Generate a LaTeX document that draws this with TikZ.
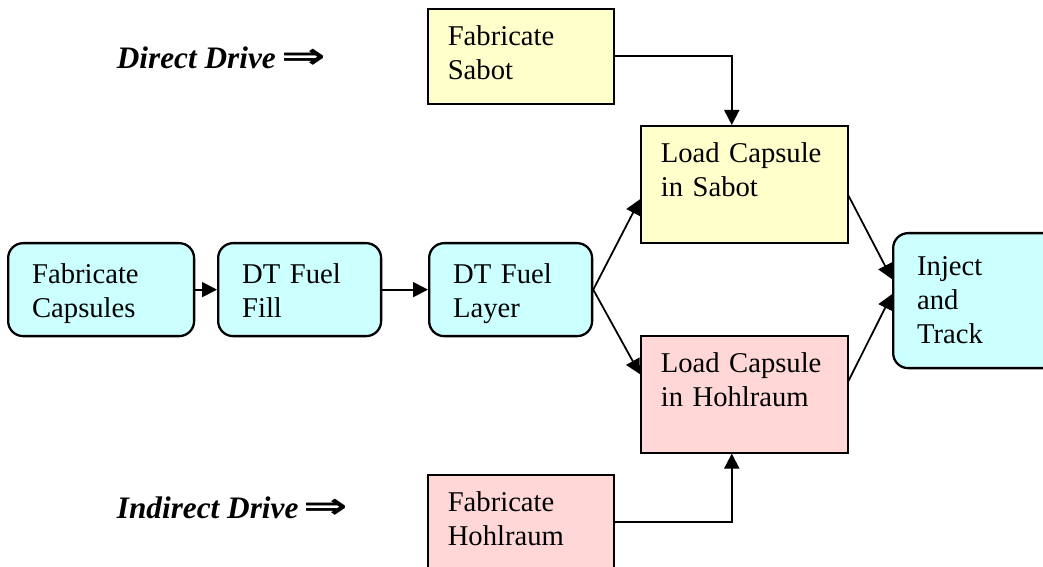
\documentclass[tikz,border=0pt]{standalone}
\usepackage{fontspec}
\setmainfont[WordSpace=0.7]{Liberation Serif}
\newfontfamily\drivefont{Liberation Serif}
\newfontfamily\arrowfont{DejaVu Sans}
\usepackage{xcolor}
\usepackage{tikz}
\usetikzlibrary{arrows.meta,calc,positioning}

\definecolor{capcyan}{HTML}{CCFFFF}
\definecolor{sabyellow}{HTML}{FFFFCC}
\definecolor{hohlpink}{HTML}{FFD7D7}

\tikzset{
  stepround/.style={draw=black, line width=1.3pt, rounded corners=0.3cm, fill=capcyan,
                    anchor=north west, align=left, inner xsep=0.48cm, inner ysep=0pt,
                    text height=0.8cm, text depth=1.06cm},
  steprect/.style={draw=black, line width=0.9pt, anchor=north west, align=left,
                   inner xsep=0.4cm, inner ysep=0pt, text height=0.74cm},
  drivelabel/.style={anchor=base west, inner sep=0pt,
                     font=\fontsize{17.8}{20}\drivefont\bfseries\itshape},
}

\begin{document}
\begin{tikzpicture}[x=0.02cm, y=-0.02cm, >={Triangle[length=0.3cm,width=0.3cm]}, line width=1pt,
                    font=\fontsize{16.3}{19.4}\selectfont]

    \useasboundingbox (0,0) rectangle (1043,567);

    % capsule line
    \node[stepround, text width=2.76cm] (caps)   at (7,242)   {Fabricate\\Capsules};
    \node[stepround, text width=2.3cm]  (filling) at (217,242) {DT Fuel\\Fill};
    \node[stepround, text width=2.3cm]  (layer)  at (428,242) {DT Fuel\\Layer};
    \node[stepround, text width=2.5cm, text height=0.84cm, text depth=1.86cm] (inject) at (892,232) {Inject\\and\\Track};

    % direct drive
    \node[steprect, fill=sabyellow, text width=2.92cm, text depth=1.16cm] (fabsabot)  at (427,8)   {Fabricate\\Sabot};
    \node[steprect, fill=sabyellow, text width=3.34cm, text depth=1.6cm]  (loadsabot) at (640,125) {Load Capsule\\in Sabot};

    % indirect drive
    \node[steprect, fill=hohlpink, text width=3.34cm, text depth=1.6cm]  (loadhohl) at (640,335) {Load Capsule\\in Hohlraum};
    \node[steprect, fill=hohlpink, text width=2.92cm, text depth=1.14cm] (fabhohl)  at (427,474) {Fabricate\\Hohlraum};

    \node[drivelabel] (direct)   at (116,69)  {Direct Drive\,\scalebox{1.7}[1.15]{\arrowfont\bfseries\upshape ⇒}};
    \node[drivelabel] (indirect) at (116,518) {Indirect Drive\,\scalebox{1.7}[1.15]{\arrowfont\bfseries\upshape ⇒}};

    % connectors
    \draw[->] (caps.east) -- (filling.west);
    \draw[->] (filling.east) -- (layer.west);
    \draw[->] (layer.east) -- ([yshift=-0.3cm]loadsabot.west);
    \draw[->] (layer.east) -- ([yshift=0.4cm]loadhohl.west);
    \draw[->] ([yshift=-0.23cm]loadsabot.east) -- ([yshift=0.43cm]inject.west);
    \draw[->] ([yshift=0.27cm]loadhohl.east) -- ([yshift=0.13cm]inject.west);
    \draw[->] (fabsabot.east) -| ([xshift=-0.25cm]loadsabot.north);
    \draw[->] (fabhohl.east) -| ([xshift=-0.25cm]loadhohl.south);

\end{tikzpicture}
\end{document}
